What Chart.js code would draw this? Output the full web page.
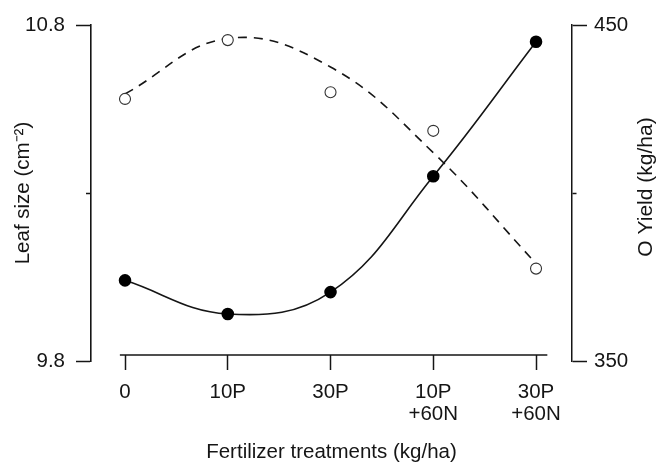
<!DOCTYPE html>
<html>
<head>
<meta charset="utf-8">
<script src="https://cdn.jsdelivr.net/npm/chart.js@4.4.1/dist/chart.umd.min.js"></script>
<style>
  html, body { margin: 0; padding: 0; background: #fff; }
</style>
</head>
<body>
<canvas id="leafChart" width="656" height="464"></canvas>
<script>
// fertilizer treatments on the x axis (space = line break)
const categories = ["0", "10P", "30P", "10P +60N", "30P +60N"];

// leaf size, filled dots, left axis
const leafSize = [10.04, 9.94, 10.005, 10.35, 10.75];

// yield, open dots, right axis
const oYield = [428, 445.5, 430, 418.5, 377.5];

// dashed fitted curve for yield at each treatment
const oYieldFit = [429.5, 446, 437.5, 412, 379];

// tick values and labels (middle ticks have no label)
const leftTicks = [9.8, 10.3, 10.8];
const leftTickLabels = ["9.8", "", "10.8"];
const rightTicks = [350, 400, 450];
const rightTickLabels = ["350", "", "450"];

const ink = "#151515";
Chart.defaults.font.family = "'Liberation Sans', Arial, sans-serif";
Chart.defaults.font.size = 20.5;
Chart.defaults.color = ink;

// x axis line that stops short of both y axes, plus the right axis title
const extrasPlugin = {
  id: "extras",
  afterDraw(chart) {
    const ctx = chart.ctx;
    const x = chart.scales.x;
    const y = chart.scales.y;
    const yPix = y.getPixelForValue(9.818);
    ctx.save();
    ctx.strokeStyle = ink;
    ctx.lineWidth = 1.5;
    ctx.beginPath();
    ctx.moveTo(x.getPixelForValue(-0.05), yPix);
    ctx.lineTo(x.getPixelForValue(4.11), yPix);
    ctx.stroke();

    ctx.translate(646, (chart.chartArea.top + chart.chartArea.bottom) / 2 - 6);
    ctx.rotate(-Math.PI / 2);
    ctx.fillStyle = ink;
    ctx.font = "21px 'Liberation Sans', Arial, sans-serif";
    ctx.textAlign = "center";
    ctx.textBaseline = "middle";
    ctx.fillText("O Yield (kg/ha)", 0, 0);
    ctx.restore();
  },
};

const ctx = document.getElementById("leafChart").getContext("2d");

const leafChart = new Chart(ctx, {
  type: "line",
  data: {
    datasets: [
      {
        label: "Yield",
        data: oYield.map((v, i) => ({ x: i, y: v })),
        yAxisID: "y1",
        showLine: false,
        pointRadius: 5.5,
        pointBackgroundColor: "#fff",
        pointBorderColor: "#333",
        pointBorderWidth: 1.1,
        clip: false,
      },
      {
        label: "Leaf size",
        data: leafSize.map((v, i) => ({ x: i, y: v })),
        yAxisID: "y",
        borderColor: ink,
        borderWidth: 1.6,
        tension: 0.4,
        pointRadius: 5.5,
        pointBackgroundColor: "#000",
        pointBorderColor: "#000",
        clip: false,
      },
      {
        label: "Yield fit",
        data: oYieldFit.map((v, i) => ({ x: i, y: v })),
        yAxisID: "y1",
        borderColor: ink,
        borderWidth: 1.6,
        borderDash: [9, 7],
        tension: 0.4,
        pointRadius: 0,
        clip: false,
      },
    ],
  },
  options: {
    responsive: false,
    animation: false,
    layout: { padding: { top: 25, bottom: 103, left: 0, right: 0 } },
    plugins: {
      legend: { display: false },
      tooltip: { enabled: false },
    },
    scales: {
      x: {
        type: "linear",
        min: -0.331,
        max: 4.35,
        bounds: "data",
        position: { y: 9.818 },
        afterBuildTicks: (scale) => {
          scale.ticks = categories.map((c, i) => ({ value: i }));
        },
        ticks: {
          callback: (v) => categories[v].split(" "),
          padding: 12,
          maxRotation: 0,
          autoSkip: false,
          font: { size: 20.5, lineHeight: 1.05 },
        },
        grid: {
          drawOnChartArea: false,
          tickLength: 15,
          tickWidth: 1.5,
          tickColor: ink,
        },
        border: { display: false },
        title: {
          display: true,
          text: "Fertilizer treatments (kg/ha)",
          padding: { top: 3, bottom: 0 },
        },
      },
      y: {
        position: "left",
        min: 9.8,
        max: 10.8,
        bounds: "data",
        afterBuildTicks: (scale) => {
          scale.ticks = leftTicks.map((v) => ({ value: v }));
        },
        afterFit: (scale) => {
          scale.width = 91;
        },
        ticks: {
          callback: (v, i) => leftTickLabels[i],
          padding: 11,
        },
        grid: {
          drawOnChartArea: false,
          tickLength: 15,
          tickWidth: 1.5,
          tickColor: ink,
          tickBorderDash: (c) => (c.index === 1 ? [0, 10, 5, 0] : []),
        },
        border: { color: ink, width: 1.6 },
        title: {
          display: true,
          text: "Leaf size (cm\u207B\u00B2)",
          padding: { top: 11, bottom: 0 },
        },
      },
      y1: {
        position: "right",
        min: 350,
        max: 450,
        bounds: "data",
        afterBuildTicks: (scale) => {
          scale.ticks = rightTicks.map((v) => ({ value: v }));
        },
        afterFit: (scale) => {
          scale.width = 84;
        },
        ticks: {
          callback: (v, i) => rightTickLabels[i],
          padding: 7,
        },
        grid: {
          drawOnChartArea: false,
          tickLength: 15,
          tickWidth: 1.5,
          tickColor: ink,
          tickBorderDash: (c) => (c.index === 1 ? [4, 20] : []),
        },
        border: { color: ink, width: 1.5, dash: [4, 3] },
      },
    },
  },
  plugins: [extrasPlugin],
});
</script>
</body>
</html>
